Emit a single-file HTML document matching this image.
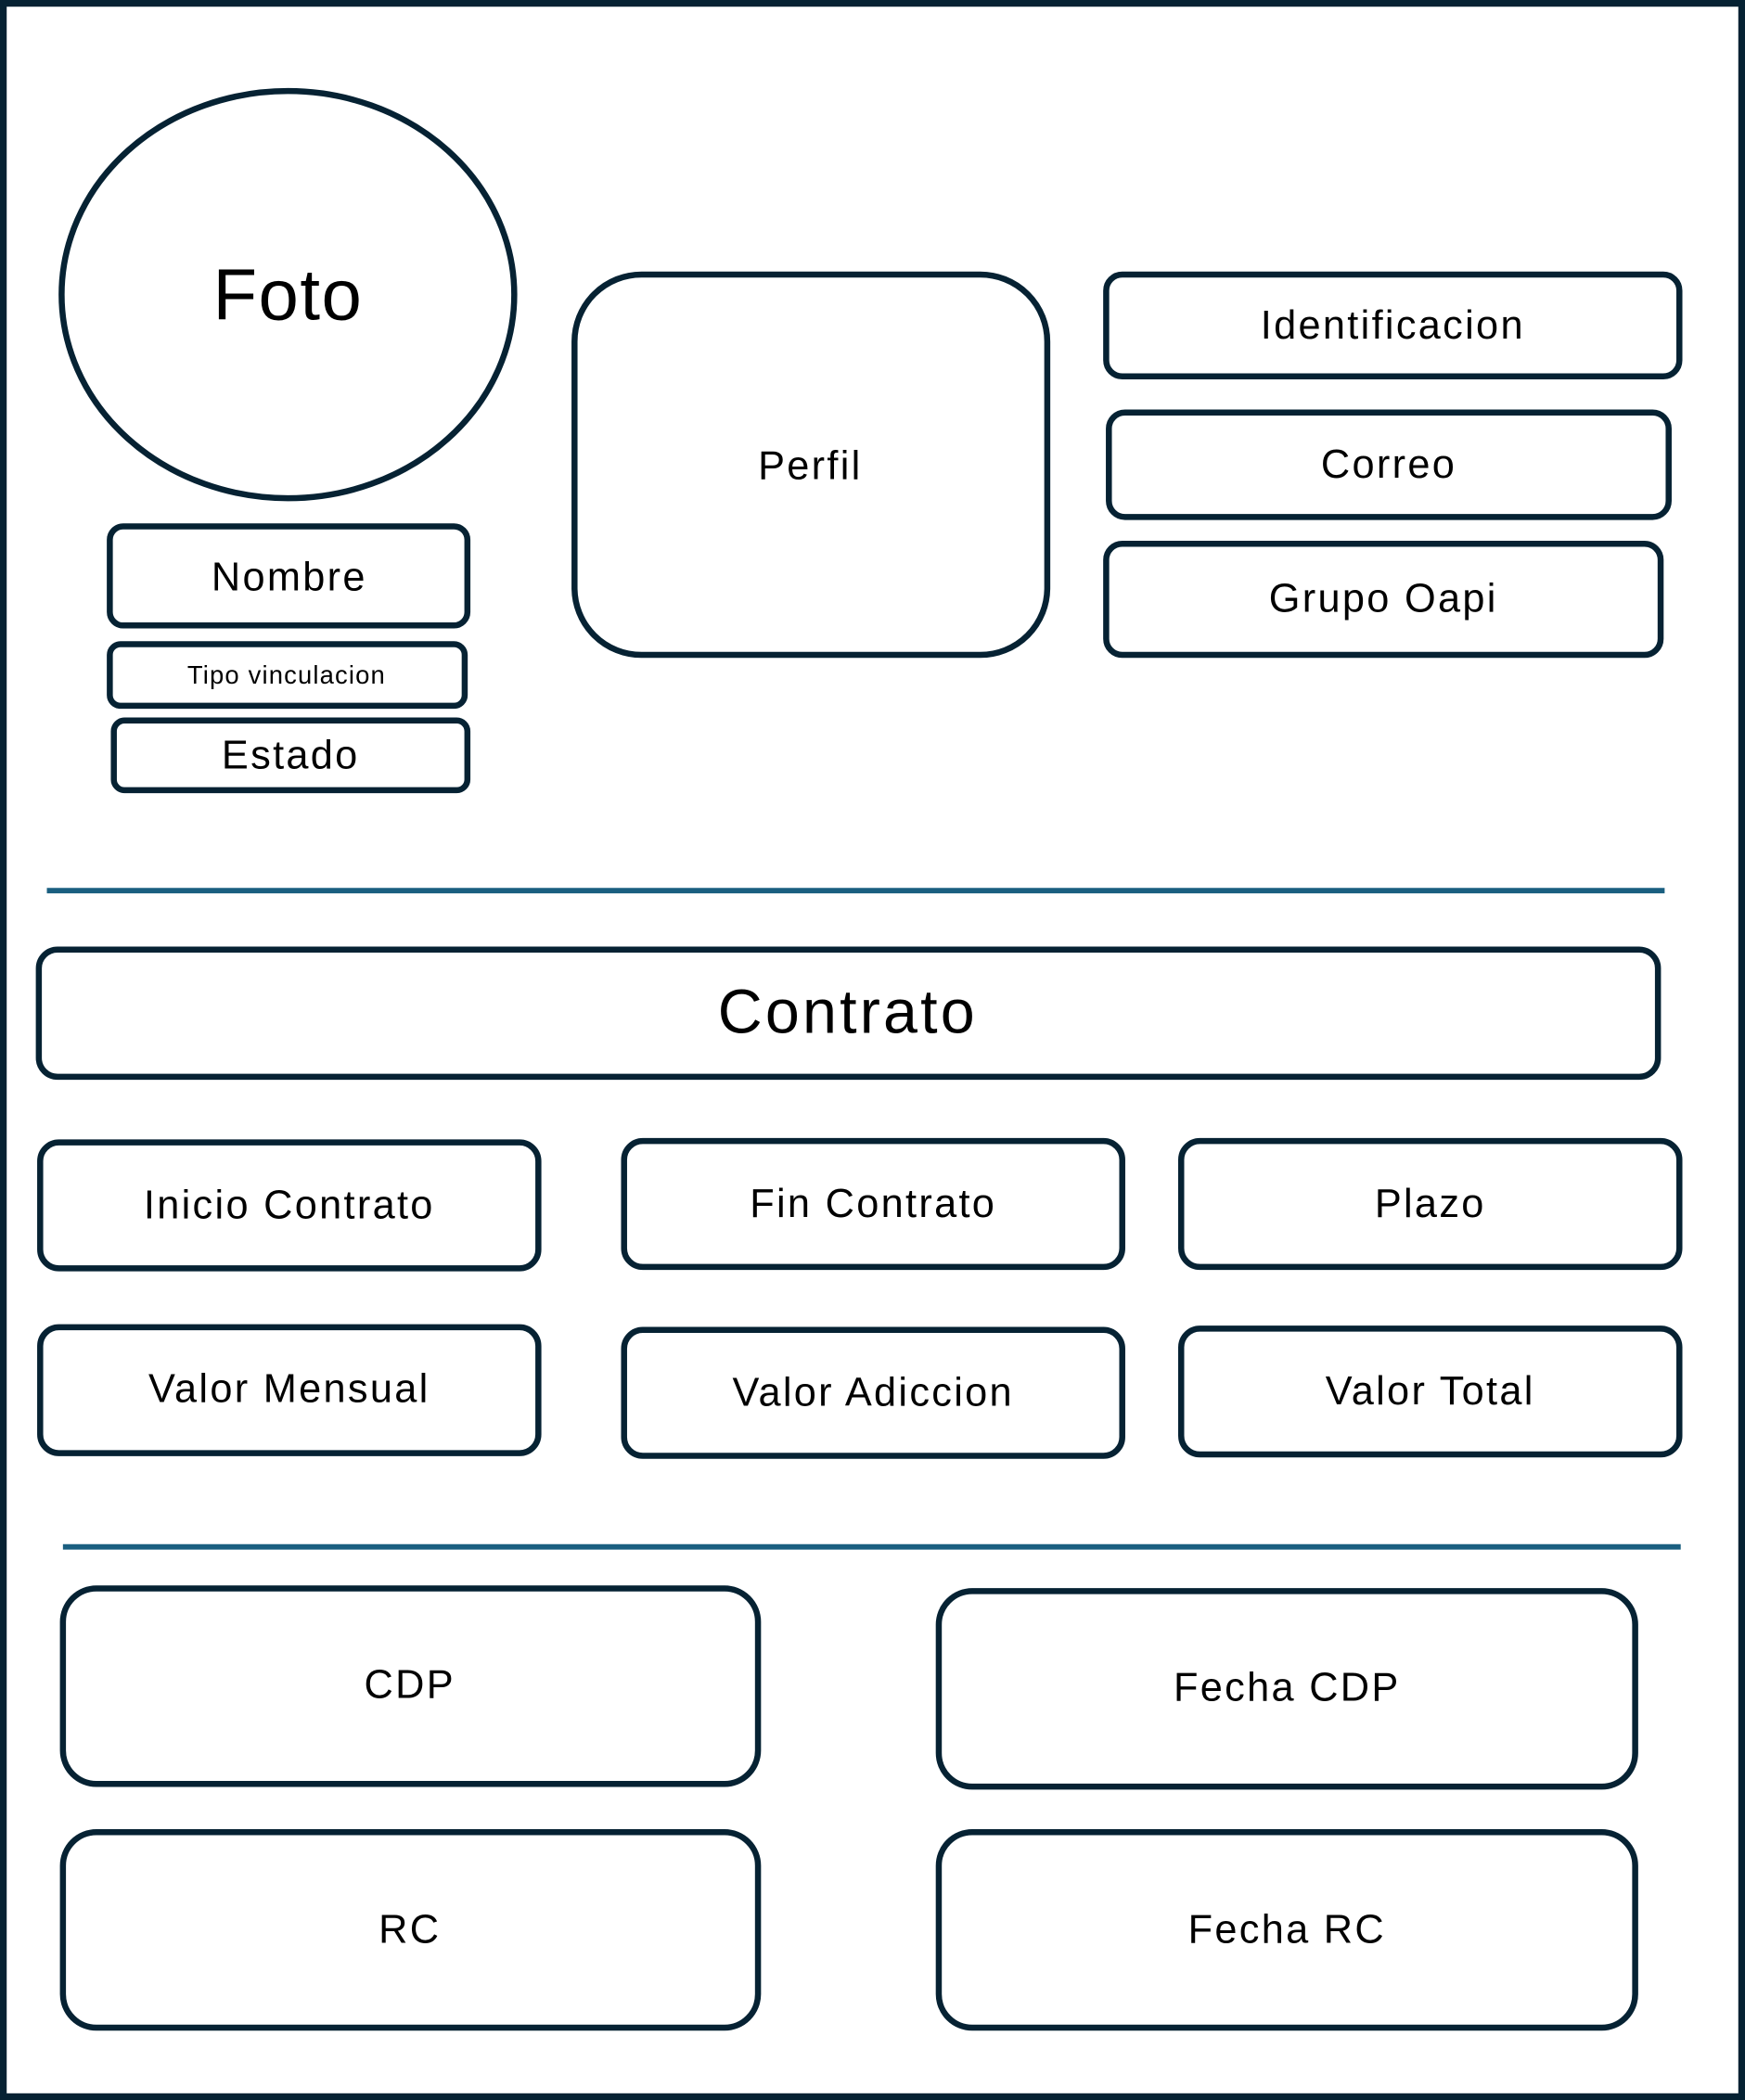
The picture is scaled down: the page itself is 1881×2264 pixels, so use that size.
<!DOCTYPE html>
<html><head><meta charset="utf-8"><style>
html,body{margin:0;padding:0;background:#fff;}
svg{display:block;}
text{font-family:"Liberation Sans",sans-serif;fill:#000;text-anchor:middle;dominant-baseline:central;letter-spacing:1.6px;}
</style></head><body>
<svg width="1881" height="2264" viewBox="0 0 1303 1568" preserveAspectRatio="none">
<rect x="2.5" y="2.5" width="1298" height="1563" fill="#fff" stroke="#062233" stroke-width="5"/>
<g fill="none" stroke="#062233" stroke-width="4.5">
<ellipse cx="215" cy="220" rx="169" ry="152"/>
<rect x="82" y="393" width="267" height="74" rx="10"/>
<rect x="82" y="481" width="265" height="46" rx="8"/>
<rect x="85" y="538" width="264" height="52" rx="8"/>
<rect x="429" y="205" width="353" height="284" rx="50"/>
<rect x="826" y="205" width="428" height="76" rx="12"/>
<rect x="828" y="308" width="418" height="78" rx="12"/>
<rect x="826" y="406" width="414" height="83" rx="12"/>
<rect x="29" y="709" width="1209" height="95" rx="14"/>
<rect x="30" y="853" width="372" height="94" rx="14"/>
<rect x="466" y="852" width="372" height="94" rx="14"/>
<rect x="882" y="852" width="372" height="94" rx="14"/>
<rect x="30" y="991" width="372" height="94" rx="14"/>
<rect x="466" y="993" width="372" height="94" rx="14"/>
<rect x="882" y="992" width="372" height="94" rx="14"/>
<rect x="47" y="1186" width="519" height="146" rx="25"/>
<rect x="701" y="1188" width="520" height="146" rx="25"/>
<rect x="47" y="1368" width="519" height="146" rx="25"/>
<rect x="701" y="1368" width="520" height="146" rx="25"/>
</g>
<line x1="35" y1="665" x2="1243" y2="665" stroke="#1a5f80" stroke-width="4"/>
<line x1="47" y1="1155" x2="1255" y2="1155" stroke="#1a5f80" stroke-width="4"/>
<text x="215" y="220" font-size="54" style="letter-spacing:1px">Foto</text>
<text x="216" y="431" font-size="30">Nombre</text>
<text x="214" y="504" font-size="19" style="letter-spacing:0.8px">Tipo vinculacion</text>
<text x="217" y="564" font-size="30">Estado</text>
<text x="605" y="348" font-size="30">Perfil</text>
<text x="1040" y="243" font-size="30">Identificacion</text>
<text x="1037" y="347" font-size="30">Correo</text>
<text x="1033" y="447" font-size="30">Grupo Oapi</text>
<text x="633" y="756" font-size="46" style="letter-spacing:2.2px">Contrato</text>
<text x="216" y="900" font-size="30">Inicio Contrato</text>
<text x="652" y="899" font-size="30">Fin Contrato</text>
<text x="1068" y="899" font-size="30">Plazo</text>
<text x="216" y="1037" font-size="30">Valor Mensual</text>
<text x="652" y="1040" font-size="30">Valor Adiccion</text>
<text x="1068" y="1039" font-size="30">Valor Total</text>
<text x="306" y="1258" font-size="30">CDP</text>
<text x="961" y="1260" font-size="30">Fecha CDP</text>
<text x="306" y="1441" font-size="30">RC</text>
<text x="961" y="1441" font-size="30">Fecha RC</text>
</svg>
</body></html>
